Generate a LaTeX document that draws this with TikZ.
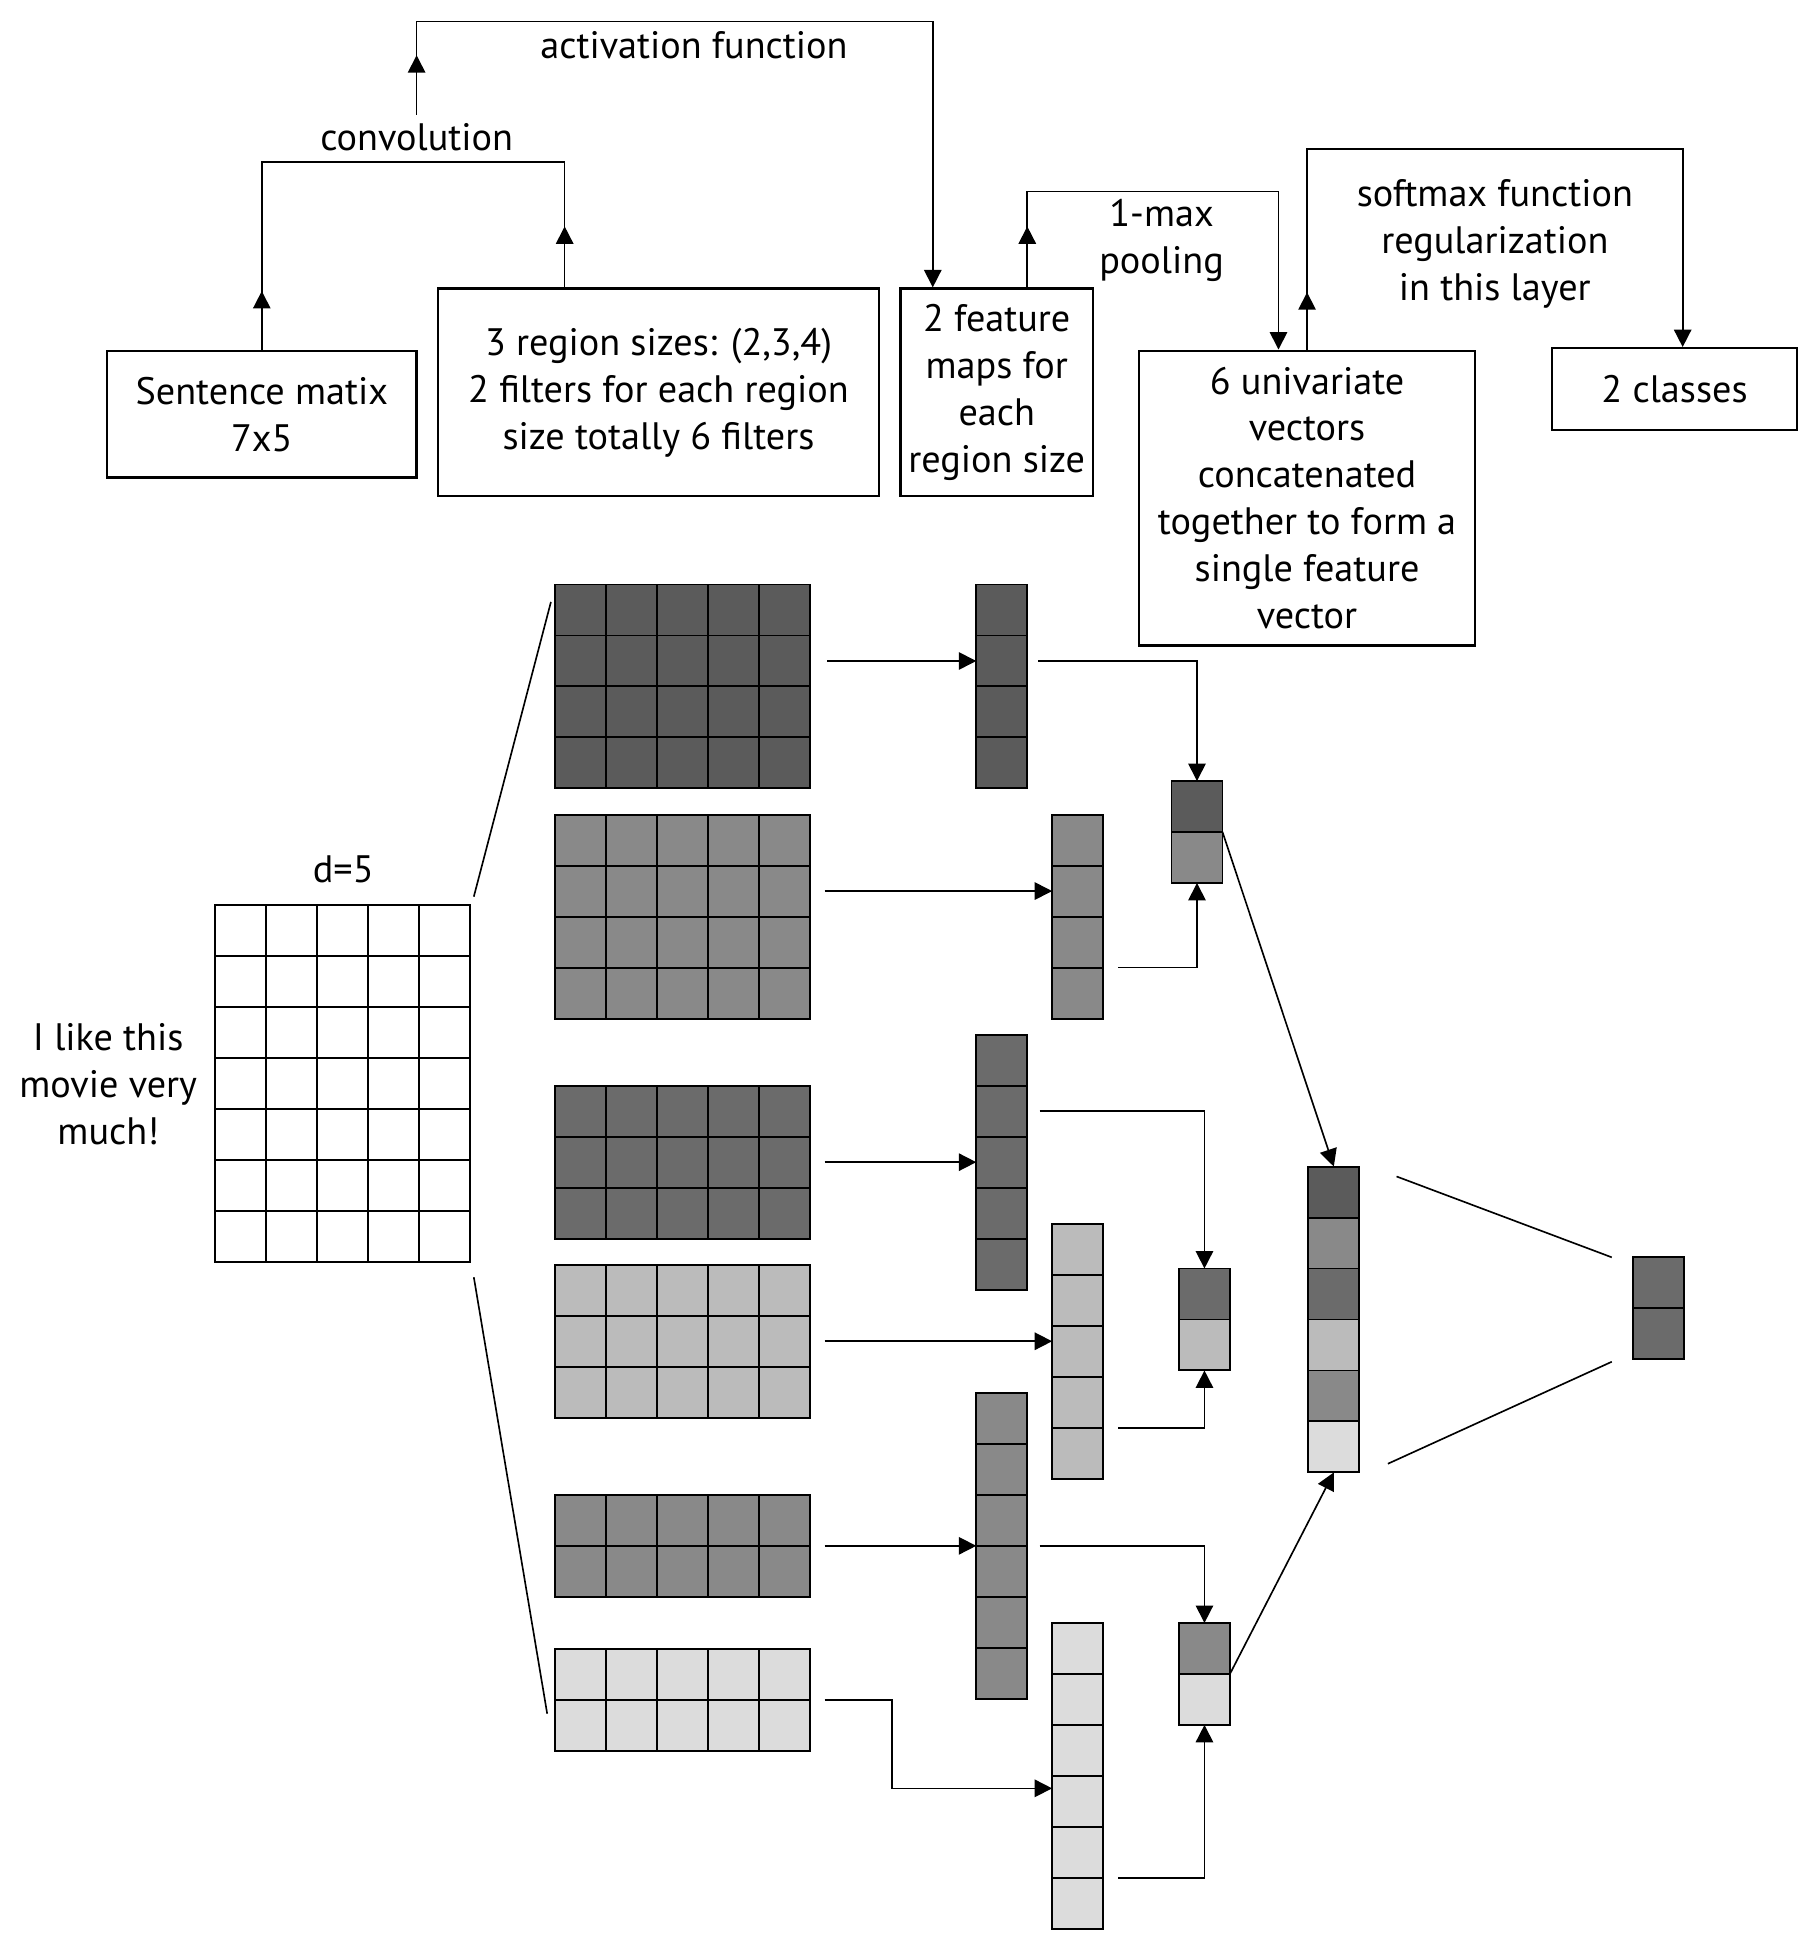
\documentclass[tikz,border=0pt]{standalone}
\usepackage{fontspec}
\setmainfont{PT Sans}
\usetikzlibrary{arrows.meta,positioning}

\definecolor{darkA}{HTML}{5B5B5B}
\definecolor{darkB}{HTML}{6B6B6B}
\definecolor{midG}{HTML}{898989}
\definecolor{lightG}{HTML}{BBBBBB}
\definecolor{paleG}{HTML}{DCDCDC}

\tikzset{
  box/.style={draw, line width=1.1pt, align=center, inner sep=0pt},
  cell/.style={draw, line width=0.9pt, minimum width=0.82cm, minimum height=0.82cm, inner sep=0pt, outer sep=0pt},
  arr/.style={-{Triangle[length=0.28cm,width=0.28cm]}},
  wire/.style={line width=0.75pt},
}

% name, left x, top y, columns, rows, fill
\newcommand{\cellmat}[6]{%
  \foreach \i in {1,...,#4}
    \foreach \j in {1,...,#5}
      \node[cell, fill=#6] (#1-\j-\i) at ({#2+41*\i-20.5},{#3+41*\j-20.5}) {};
}

\begin{document}
\begin{tikzpicture}[x=0.02cm, y=-0.02cm, font=\fontsize{17.5}{21.5}\selectfont, wire]
\useasboundingbox (0,0) rectangle (1461,1568);

% boxes on top
\node[box, minimum width=4.98cm, minimum height=2.04cm] (sent) at (210.5,333) {Sentence matix\\7x5};
\node[box, minimum width=7.1cm, minimum height=3.34cm] (region) at (529.5,315.5) {3 region sizes: (2,3,4)\\2 filters for each region\\size totally 6 filters};
\node[box, minimum width=3.1cm, minimum height=3.34cm] (fmaps) at (801.5,315.5) {2 feature\\maps for\\each\\region size};
\node[box, minimum width=5.4cm, minimum height=4.74cm] (univ) at (1051,400.5) {6 univariate\\vectors\\concatenated\\together to form a\\single feature\\vector};
\node[box, minimum width=3.94cm, minimum height=1.32cm] (classes) at (1346.5,313) {2 classes};

% convolution
\node (conv) at (335,110) {convolution};
\draw (sent.north) -- ++(0,-151) -| ([xshift=2.06cm]region.north west);
\draw[arr] (sent.north) -- ++(0,-47);
\draw[arr] ([xshift=2.06cm]region.north west) -- ++(0,-49);

% activation
\node (act) at (558,36) {activation function};
\draw[arr] (conv.north) -- ++(0,-75) -| ([xshift=0.54cm]fmaps.north west);
\draw[arr] (conv.north) -- ++(0,-48);

% pooling
\node[align=center] (poollbl) at (934,193) {1-max\\pooling};
\draw[arr] ([xshift=2.06cm]fmaps.north west) -- ++(0,-77) -| ([xshift=2.26cm]univ.north west);
\draw[arr] ([xshift=2.06cm]fmaps.north west) -- ++(0,-49);

% softmax
\node[align=center] (soft) at (1202,196) {softmax function\\regularization\\in this layer};
\draw[arr] (univ.north) -- ++(0,-161) -| ([xshift=2.12cm]classes.north west);
\draw[arr] (univ.north) -- ++(0,-46);

% sentence matrix
\cellmat{s}{173}{728}{5}{7}{white}
\node (dim) at (276,699) {d=5};
\node[align=center] (words) at (87,872) {I like this\\movie very\\much!};

% filters
\cellmat{filt1}{446}{470}{5}{4}{darkA}
\cellmat{filt2}{446}{655}{5}{4}{midG}
\cellmat{filt3}{446}{873}{5}{3}{darkB}
\cellmat{filt4}{446}{1017}{5}{3}{lightG}
\cellmat{filt5}{446}{1202}{5}{2}{midG}
\cellmat{filt6}{446}{1326}{5}{2}{paleG}

\draw ([shift={(0.06cm,0.14cm)}]s-1-5.north east) -- ([shift={(-0.06cm,-0.28cm)}]filt1-1-1.north west);
\draw ([shift={(0.06cm,-0.24cm)}]s-7-5.south east) -- ([shift={(-0.12cm,0.6cm)}]filt6-2-1.south west);

% feature maps
\cellmat{map1}{785}{470}{1}{4}{darkA}
\cellmat{map2}{846}{655}{1}{4}{midG}
\cellmat{map3}{785}{832}{1}{5}{darkB}
\cellmat{map4}{846}{984}{1}{5}{lightG}
\cellmat{map5}{785}{1120}{1}{6}{midG}
\cellmat{map6}{846}{1305}{1}{6}{paleG}

\draw[arr] ([xshift=0.28cm]filt1-2-5.east) -- (filt1-2-5.east -| map1-2-1.west);
\draw[arr] ([xshift=0.24cm]filt2-2-5.east) -- (filt2-2-5.east -| map2-2-1.west);
\draw[arr] ([xshift=0.24cm]filt3-2-5.east) -- (filt3-2-5.east -| map3-3-1.west);
\draw[arr] ([xshift=0.24cm]filt4-2-5.east) -- (filt4-2-5.east -| map4-3-1.west);
\draw[arr] ([xshift=0.24cm]filt5-1-5.south east) -- (filt5-1-5.south east -| map5-1-1.west);
\draw[arr] ([xshift=0.24cm]filt6-1-5.south east) -- ++(54,0) |- ([yshift=-0.2cm]map6-3-1.south west);

% pooled
\node[cell, fill=darkA] (pool1-1-1) at (962.5,648.5) {};
\node[cell, fill=midG, below=0pt of pool1-1-1] (pool1-2-1) {};
\node[cell, fill=darkB] (pool2-1-1) at (968.5,1040.5) {};
\node[cell, fill=lightG, below=0pt of pool2-1-1] (pool2-2-1) {};
\node[cell, fill=midG] (pool3-1-1) at (968.5,1325.5) {};
\node[cell, fill=paleG, below=0pt of pool3-1-1] (pool3-2-1) {};

\draw[arr] ([xshift=0.18cm]map1-2-1.east) -| (pool1-1-1.north);
\draw[arr] ([xshift=0.24cm]map2-3-1.south east) -| (pool1-2-1.south);
\draw[arr] ([xshift=0.2cm]map3-2-1.east) -| (pool2-1-1.north);
\draw[arr] ([xshift=0.24cm]map4-4-1.south east) -| (pool2-2-1.south);
\draw[arr] ([xshift=0.2cm]map5-3-1.south east) -| (pool3-1-1.north);
\draw[arr] ([xshift=0.24cm]map6-5-1.south east) -| (pool3-2-1.south);

% single feature vector
\foreach \c [count=\j] in {darkA,midG,darkB,lightG,midG,paleG}
  \node[cell, fill=\c] (feat-\j-1) at (1072.5,{938+41*\j-20.5}) {};
\draw[arr] (pool1-1-1.south east) -- (feat-1-1.north);
\draw[arr] (pool3-1-1.south east) -- (feat-6-1.south);

% output
\node[cell, fill=darkB] (out-1-1) at (1333.5,1031.5) {};
\node[cell, fill=darkB, below=0pt of out-1-1] (out-2-1) {};
\draw ([shift={(0.6cm,-0.16cm)}]feat-1-1.north east) -- ([xshift=-0.34cm]out-1-1.north west);
\draw ([shift={(0.46cm,0.14cm)}]feat-6-1.south east) -- ([shift={(-0.34cm,-0.04cm)}]out-2-1.south west);
\end{tikzpicture}
\end{document}
